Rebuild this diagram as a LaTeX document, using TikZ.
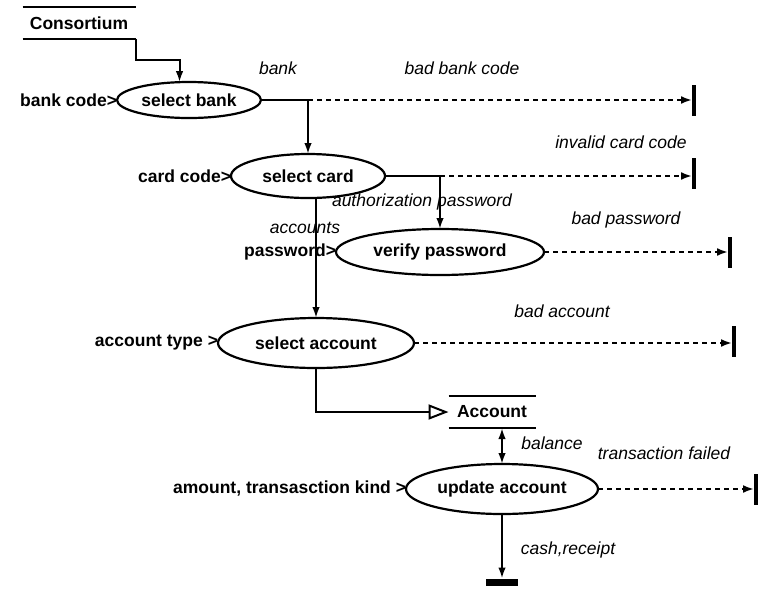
\documentclass[tikz,border=0pt]{standalone}
\usepackage{fontspec}
\setmainfont{Liberation Sans}
\usetikzlibrary{arrows.meta,shapes.geometric}
\begin{document}
\begin{tikzpicture}[x=1pt,y=-1pt,
  every node/.style={inner sep=0pt, outer sep=0pt},
  proc/.style={ellipse, draw, line width=2.2pt, font=\bfseries\fontsize{17.5}{19}\selectfont},
  inlabel/.style={anchor=east, font=\bfseries\fontsize{17.5}{19}\selectfont},
  flowlabel/.style={font=\itshape\fontsize{17.5}{19}\selectfont},
  storebox/.style={minimum height=32pt, font=\bfseries\fontsize{17.5}{19}\selectfont},
  endbar/.style={fill=black, minimum width=4pt, minimum height=31pt},
  plain/.style={line width=2pt},
  flow/.style={line width=2pt, -{Latex[length=11pt,width=7.5pt]}},
  failflow/.style={line width=2.2pt, dash pattern=on 5pt off 4pt, -{Latex[length=11pt,width=8pt]}},
]
\useasboundingbox (0,0) rectangle (758,590);

% data stores
\node[storebox, minimum width=113pt] (cons) at (79,23) {Consortium};
\draw[plain] (cons.north west) -- (cons.north east);
\draw[plain] (cons.south west) -- (cons.south east);
\node[storebox, minimum width=87pt] (store) at (492,412) {Account};
\draw[plain] (store.north west) -- (store.north east);
\draw[plain] (store.south west) -- (store.south east);

% processes
\node[proc, minimum width=144pt, minimum height=36pt] (bank) at (189,100) {select bank};
\node[proc, minimum width=154pt, minimum height=44pt] (card) at (308,176) {select card};
\node[proc, minimum width=208pt, minimum height=46pt] (verify) at (440,252) {verify password};
\node[proc, minimum width=196pt, minimum height=50pt] (acct) at (316,343) {select account};
\node[proc, minimum width=192pt, minimum height=50pt] (upd) at (502,489) {update account};

% inputs
\node[inlabel] (inbank) at (bank.west) {bank code>};
\node[inlabel] (incard) at (card.west) {card code>};
\node[inlabel] (inpass) at (verify.west) {password>};
\node[inlabel] (intype) at (acct.west) {account type >};
\node[inlabel] (inamount) at (upd.west) {amount, transasction kind >};

% terminators
\node[endbar] (x1) at (694,100) {};
\node[endbar] (x2) at (694,173) {};
\node[endbar] (x3) at (730,252) {};
\node[endbar] (x4) at (734,341) {};
\node[endbar] (x5) at (756,489) {};
\node[fill=black, minimum width=32pt, minimum height=7pt] (x6) at (502,582) {};

% flows
\draw[flow] (cons.south east) -- ++(0,21) -| (bank.118);

\coordinate (jb) at (card.north |- bank.east);
\draw[plain] (bank.east) -- (jb);
\draw[flow] (jb) -- (card.north);
\draw[failflow] (jb) -- (jb -| x1.west);

\coordinate (jc) at (verify.north |- card.east);
\draw[plain] (card.east) -- (jc);
\draw[flow] (jc) -- (verify.north);
\draw[failflow] (jc) -- (jc -| x2.west);

\draw[failflow] (verify.east) -- (verify.east -| x3.west);

\draw[flow] (card.south -| acct.north) -- (acct.north);
\draw[failflow] (acct.east) -- (acct.east -| x4.west);
\draw[line width=2pt, -{Triangle[open,length=20pt,width=15pt]}] (acct.south) |- (store.west);

\draw[line width=2pt, {Latex[length=11pt,width=7.5pt]}-{Latex[length=11pt,width=7.5pt]}] (store.south -| upd.north) -- (upd.north);
\draw[failflow] (upd.east) -- (upd.east -| x5.west);
\draw[flow] (upd.south) -- (x6.north);

% flow labels
\node[flowlabel] (lbank) at (278,68) {bank};
\node[flowlabel] (lbadbank) at (462,68) {bad bank code};
\node[flowlabel] (linvalid) at (621,142) {invalid card code};
\node[flowlabel] (lauth) at (422,202) {authorization password};
\node[flowlabel] (laccounts) at (305,228) {accounts};
\node[flowlabel] (lbadpass) at (626,220) {bad password};
\node[flowlabel] (lbadacct) at (562,311) {bad account};
\node[flowlabel] (lbalance) at (552,443) {balance};
\node[flowlabel] (lfailed) at (664,453) {transaction failed};
\node[flowlabel] (lcash) at (568,550) {cash,receipt};
\end{tikzpicture}
\end{document}
